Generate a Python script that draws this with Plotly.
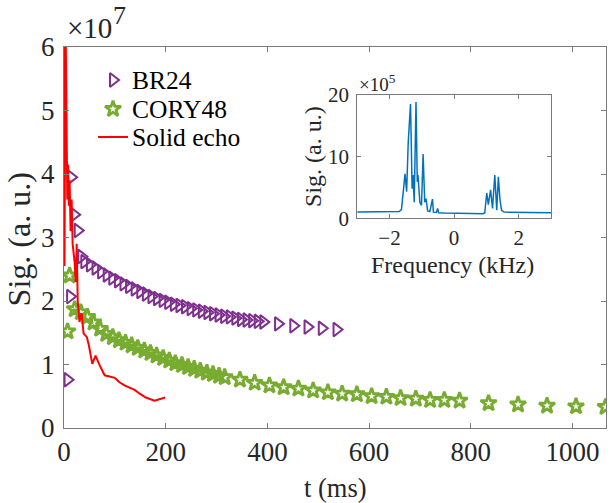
import plotly.graph_objects as go

# ---------------- data (signal in units of 1e7) ----------------
br24_t = [7, 12, 14, 20, 27, 34,
          40, 51, 62, 73, 84, 95, 106, 117, 128, 139, 150, 161, 172, 183, 194,
          205, 216, 227, 238, 249, 260, 271, 282, 293, 304, 315, 326, 337, 348,
          359, 370, 381, 392, 421, 451, 479, 507, 536]
br24_v = [0.76, 2.07, 3.95, 3.36, 3.11, 2.70,
          2.62, 2.57, 2.52, 2.46, 2.41, 2.36, 2.32, 2.27, 2.23, 2.19, 2.15, 2.11, 2.07, 2.04, 2.01,
          1.98, 1.95, 1.93, 1.91, 1.88, 1.86, 1.84, 1.82, 1.80, 1.78, 1.76, 1.75, 1.73, 1.71,
          1.70, 1.69, 1.68, 1.67, 1.64, 1.61, 1.59, 1.57, 1.55]

cory_t = [7, 11, 21, 33, 46, 58, 71, 83, 96, 108, 121, 133, 145, 158, 170, 182, 195,
          207, 219, 232, 244, 256, 268, 281, 293, 305, 316,
          346, 375, 404, 432, 461, 490, 519, 547, 576, 605, 634, 662, 692, 720, 748, 778,
          835, 893, 950, 1007, 1065]
cory_v = [1.52, 2.40, 1.87, 1.82, 1.75, 1.66, 1.56, 1.48, 1.43, 1.38, 1.34, 1.30, 1.26, 1.22, 1.18, 1.14, 1.10,
          1.06, 1.02, 0.99, 0.96, 0.93, 0.90, 0.87, 0.85, 0.82, 0.80,
          0.76, 0.71, 0.67, 0.64, 0.62, 0.59, 0.56, 0.54, 0.53, 0.50, 0.49, 0.47, 0.46, 0.44, 0.44, 0.43,
          0.39, 0.37, 0.35, 0.34, 0.33]

echo_t = [0, 1, 3, 5, 6.5, 8, 9.5, 11, 13, 15, 17, 19, 21, 23, 25, 27, 30.5, 34.5, 38.5,
          45, 49, 55.6, 62, 70, 80, 100, 109, 119, 139, 149, 161, 178, 188, 199]
echo_v = [7.0, 2.55, 6.5, 4.25, 3.6, 4.15, 3.5, 3.9, 3.1, 3.6, 2.9, 2.75, 2.6, 2.3, 2.9, 2.0, 1.67, 1.81, 1.49,
          1.43, 1.30, 1.01, 1.14, 0.99, 0.83, 0.79, 0.72, 0.67, 0.60, 0.54, 0.48, 0.43, 0.45, 0.48]

# inset spectrum (signal in units of 1e5)
freq = [-3.0, -2.5, -2.0, -1.8, -1.7, -1.63, -1.58, -1.52, -1.47, -1.42, -1.35, -1.30, -1.27,
        -1.235, -1.18, -1.14, -1.12, -1.06, -1.01, -0.96, -0.91, -0.87, -0.82, -0.75, -0.67,
        -0.64, -0.55, -0.51, -0.48, -0.3, 0.0, 0.5, 0.9, 0.95, 1.01, 1.06, 1.13, 1.19, 1.26,
        1.32, 1.37, 1.42, 1.47, 1.55, 2.0, 2.5, 3.0]
spec = [1.0, 1.0, 1.0, 1.05, 1.1, 1.4, 4.0, 7.2, 4.3, 12.3, 18.5, 4.8, 7.0,
        2.6, 18.8, 5.9, 7.0, 2.6, 2.1, 10.4, 2.6, 3.2, 1.2, 1.1, 3.1,
        1.0, 0.95, 1.6, 0.9, 0.85, 0.8, 0.8, 0.75, 0.9, 4.1, 2.2, 4.6, 1.6, 7.0,
        1.3, 6.7, 3.0, 1.3, 1.0, 0.95, 0.9, 0.9]

xticks = [0, 200, 400, 600, 800, 1000]
yticks = [0, 1, 2, 3, 4, 5, 6]
inset_xticks = [-2, 0, 2]
inset_yticks = [0, 10, 20]

legend_names = ["BR24", "CORY48", "Solid echo"]

FONT = "Times New Roman, Liberation Serif, serif"
AX = "#7a7a7a"
TXT = "#262626"
PURPLE, GREEN, RED, BLUE = "#7E2F8E", "#77AC30", "#FF0000", "#0072BD"

tri_marker = dict(symbol="triangle-right-open", size=12, color=PURPLE, line=dict(width=2, color=PURPLE))
star_marker = dict(symbol="star-open", size=12, color=GREEN, line=dict(width=2.8, color=GREEN))

fig = go.Figure()
fig.add_trace(go.Scatter(x=br24_t, y=br24_v, mode="markers", name=legend_names[0], marker=tri_marker))
fig.add_trace(go.Scatter(x=cory_t, y=cory_v, mode="markers", name=legend_names[1], marker=star_marker))
fig.add_trace(go.Scatter(x=echo_t, y=echo_v, mode="lines", name=legend_names[2],
                         line=dict(color=RED, width=2)))
fig.add_trace(go.Scatter(x=freq, y=spec, mode="lines", xaxis="x2", yaxis="y2",
                         line=dict(color=BLUE, width=1.5)))

# ---- legend samples, drawn on a hidden pixel-scaled overlay axis (plot area 542 x 381 px) ----
leg_x, leg_rows = 49, [348, 319, 291]
fig.add_trace(go.Scatter(x=[leg_x], y=[leg_rows[0]], mode="markers", marker=tri_marker,
                         xaxis="x3", yaxis="y3", hoverinfo="skip"))
fig.add_trace(go.Scatter(x=[leg_x], y=[leg_rows[1]], mode="markers", marker=star_marker,
                         xaxis="x3", yaxis="y3", hoverinfo="skip"))
fig.add_trace(go.Scatter(x=[leg_x - 15, leg_x + 15], y=[leg_rows[2], leg_rows[2]], mode="lines",
                         line=dict(color=RED, width=2), xaxis="x3", yaxis="y3", hoverinfo="skip"))
for name, row in zip(legend_names, leg_rows):
    fig.add_annotation(text=name, xref="x3", yref="y3", x=leg_x + 17, y=row, xanchor="left",
                       yanchor="middle", showarrow=False, font=dict(size=25.5, family=FONT, color="black"))

axis_common = dict(showline=True, linecolor=AX, linewidth=1, mirror="ticks", ticks="inside",
                   tickcolor=AX, showgrid=False, zeroline=False)

fig.update_layout(
    width=611, height=503, margin=dict(l=64, r=5, t=47, b=75),
    paper_bgcolor="white", plot_bgcolor="white", showlegend=False,
    font=dict(family=FONT, color=TXT),
    xaxis=dict(range=[0, 1066], tickvals=xticks, ticklen=5, ticklabelstandoff=0,
               tickfont=dict(size=27, family=FONT, color=TXT), **axis_common),
    yaxis=dict(range=[0, 6], tickvals=yticks, ticklen=5, ticklabelstandoff=3,
               tickfont=dict(size=27, family=FONT, color=TXT), **axis_common),
    xaxis2=dict(domain=[0.541, 0.8985], anchor="y2", range=[-3, 3], tickvals=inset_xticks,
                ticklen=4, ticklabelstandoff=1, tickfont=dict(size=21, family=FONT, color=TXT),
                **axis_common),
    yaxis2=dict(domain=[0.5504, 0.8748], anchor="x2", range=[0, 20], tickvals=inset_yticks,
                ticklen=4, ticklabelstandoff=3, tickfont=dict(size=21, family=FONT, color=TXT),
                **axis_common),
    xaxis3=dict(overlaying="x", anchor="y3", range=[0, 542], visible=False),
    yaxis3=dict(overlaying="y", anchor="x3", range=[0, 381], visible=False),
)

# exponent labels
fig.add_annotation(text="×10", xref="paper", yref="paper", x=0.0, y=1.0, xshift=1, yshift=1,
                   xanchor="left", yanchor="bottom", showarrow=False,
                   font=dict(size=29, family=FONT, color=TXT))
fig.add_annotation(text="7", xref="paper", yref="paper", x=0.0, y=1.0, xshift=47, yshift=15,
                   xanchor="left", yanchor="bottom", showarrow=False,
                   font=dict(size=26, family=FONT, color=TXT))
fig.add_annotation(text="×10<sup>5</sup>", xref="paper", yref="paper", x=0.541, y=0.8748,
                   xanchor="left", yanchor="bottom", showarrow=False, yshift=-2,
                   font=dict(size=19, family=FONT, color=TXT))
# axis titles
fig.add_annotation(text="t (ms)", xref="paper", yref="paper", x=0.5, y=0, yshift=-43,
                   xanchor="center", yanchor="top", showarrow=False,
                   font=dict(size=26.5, family=FONT, color=TXT))
fig.add_annotation(text="Sig. (a. u.)", xref="paper", yref="paper", x=0, xshift=-25, y=0.495,
                   xanchor="right", yanchor="middle", textangle=-90, showarrow=False,
                   font=dict(size=32, family=FONT, color=TXT))
fig.add_annotation(text="Frequency (kHz)", xref="paper", yref="paper", x=0.7175, y=0.5504, yshift=-32,
                   xanchor="center", yanchor="top", showarrow=False,
                   font=dict(size=24, family=FONT, color=TXT))
fig.add_annotation(text="Sig. (a. u.)", xref="paper", yref="paper", x=0.541, xshift=-29, y=0.712,
                   xanchor="right", yanchor="middle", textangle=-90, showarrow=False,
                   font=dict(size=24, family=FONT, color=TXT))

fig.write_html("out.html")
